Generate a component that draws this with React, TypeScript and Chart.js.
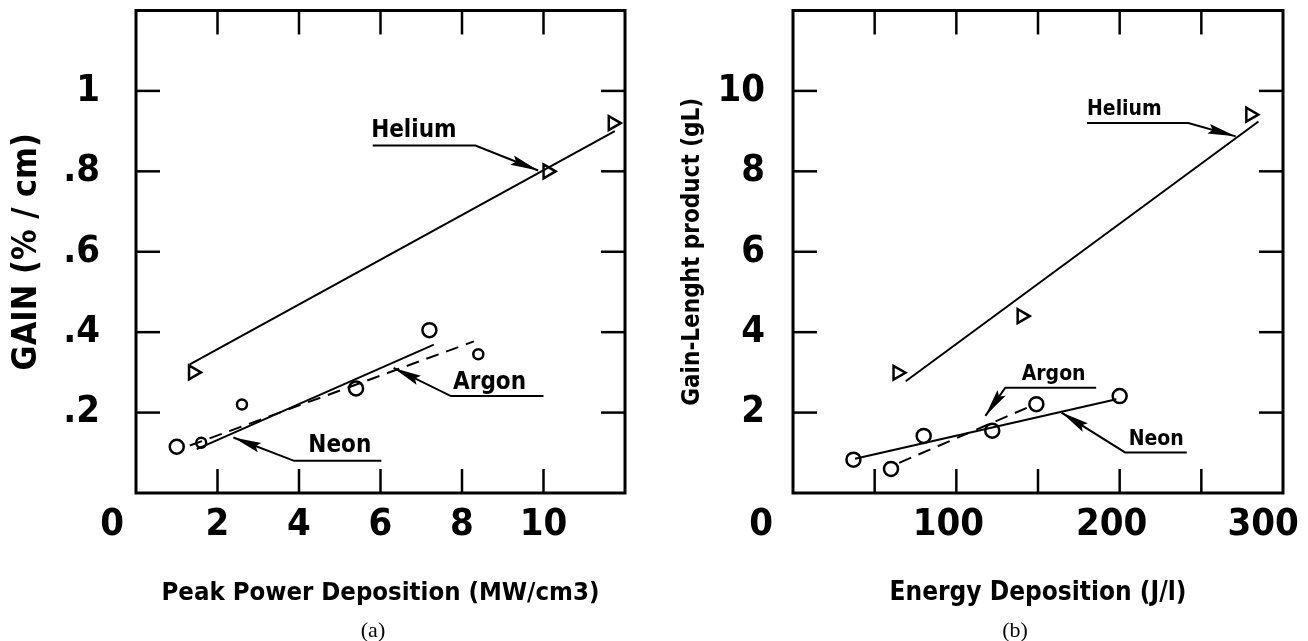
import React, { useEffect, useRef } from 'react';
import { Chart, registerables } from 'chart.js';
Chart.register(...registerables);

// ---------- Panel (a): Gain vs Peak Power Deposition ----------
const heliumPowerX = [1.4, 10.1, 11.7];
const heliumGainY = [0.3, 0.8, 0.92];
const neonPowerX = [1.0, 5.4, 7.2];
const neonGainY = [0.115, 0.26, 0.405];
const argonPowerX = [1.6, 2.6, 8.4];
const argonGainY = [0.125, 0.22, 0.345];
const heliumFitAX = [1.32, 11.75];
const heliumFitAY = [0.32, 0.9];
const neonFitAX = [1.49, 7.31];
const neonFitAY = [0.109, 0.369];
const argonFitAX = [1.32, 8.29];
const argonFitAY = [0.118, 0.377];

// ---------- Panel (b): Gain-length vs Energy Deposition ----------
const heliumEnergyX = [64, 140, 280];
const heliumGLY = [2.99, 4.4, 9.41];
const neonEnergyX = [37, 80, 122, 200];
const neonGLY = [0.83, 1.42, 1.55, 2.41];
const argonEnergyX = [60, 149];
const argonGLY = [0.6, 2.21];
const heliumFitBX = [69, 285];
const heliumFitBY = [2.78, 9.24];
const neonFitBX = [38, 198];
const neonFitBY = [0.85, 2.33];
const argonFitBX = [65, 145];
const argonFitBY = [0.75, 2.15];

// ---------- Axis ticks / labels ----------
const xTicksA = { min: 0, max: 12, step: 2 };
const yTicksA = { min: 0, max: 1.2, step: 0.2 };
const xTicksB = { min: 0, max: 300, step: 50 };
const yTicksB = { min: 0, max: 12, step: 2 };

const xTitleA = 'Peak Power Deposition (MW/cm3)';
const yTitleA = 'GAIN (% / cm)';
const xTitleB = 'Energy Deposition (J/l)';
const yTitleB = 'Gain-Lenght product (gL)';

// Annotation labels (text anchor + leader polyline in data units, last point = arrow tip)
const notesA = [
  { text: 'Helium', tx: 5.77, ty: 0.885, px: [5.81, 8.33, 9.87], py: [0.864, 0.864, 0.802] },
  { text: 'Argon', tx: 7.78, ty: 0.258, px: [10.0, 7.73, 6.32], py: [0.241, 0.241, 0.311] },
  { text: 'Neon', tx: 4.23, ty: 0.101, px: [6.02, 3.88, 2.39], py: [0.08, 0.08, 0.138] },
];
const notesB = [
  { text: 'Helium', tx: 180, ty: 9.41, px: [180, 242, 271], py: [9.2, 9.2, 8.87] },
  { text: 'Argon', tx: 140, ty: 2.82, px: [185.6, 130, 117.8], py: [2.62, 2.62, 1.92] },
  { text: 'Neon', tx: 205.5, ty: 1.19, px: [241.1, 203.3, 164.4], py: [1.01, 1.01, 2.0] },
];

const FONT = "'Liberation Sans Narrow', 'DejaVu Sans Condensed', 'Arial Narrow', sans-serif";
const TICK_SIZE = 38;

const pts = (xs: number[], ys: number[]) => xs.map((x, i) => ({ x, y: ys[i] }));

function makeFramePlugin(notes: any[], noteSize: number) {
  return {
    id: 'frame',
    afterDatasetsDraw(chart: any) {
      const { ctx, chartArea: a, scales } = chart;
      const xs = scales.x;
      const ys = scales.y;
      ctx.save();
      ctx.strokeStyle = '#000';
      ctx.fillStyle = '#000';
      ctx.lineWidth = 3;
      ctx.strokeRect(a.left, a.top, a.right - a.left, a.bottom - a.top);
      ctx.lineWidth = 2.5;
      const L = 24;
      const seg = (x1: number, y1: number, x2: number, y2: number) => {
        ctx.beginPath();
        ctx.moveTo(x1, y1);
        ctx.lineTo(x2, y2);
        ctx.stroke();
      };
      xs.ticks.forEach((t: any) => {
        if (t.value <= xs.min + 1e-9 || t.value >= xs.max - 1e-9) return;
        const p = xs.getPixelForValue(t.value);
        seg(p, a.bottom, p, a.bottom - L);
        seg(p, a.top, p, a.top + L);
      });
      ys.ticks.forEach((t: any) => {
        if (t.value <= ys.min + 1e-9 || t.value >= ys.max - 1e-9) return;
        const p = ys.getPixelForValue(t.value);
        seg(a.left, p, a.left + L, p);
        seg(a.right, p, a.right - L, p);
      });
      // annotations
      ctx.lineWidth = 2;
      ctx.font = `bold ${noteSize}px ${FONT}`;
      ctx.textAlign = 'left';
      ctx.textBaseline = 'alphabetic';
      notes.forEach((n) => {
        ctx.fillText(n.text, xs.getPixelForValue(n.tx), ys.getPixelForValue(n.ty));
        const P = n.px.map((v: number, i: number) => [xs.getPixelForValue(v), ys.getPixelForValue(n.py[i])]);
        ctx.beginPath();
        ctx.moveTo(P[0][0], P[0][1]);
        for (let i = 1; i < P.length; i++) ctx.lineTo(P[i][0], P[i][1]);
        ctx.stroke();
        const [x1, y1] = P[P.length - 2];
        const [x2, y2] = P[P.length - 1];
        const ang = Math.atan2(y2 - y1, x2 - x1);
        const len = 28;
        const hw = 5;
        const c = Math.cos(ang);
        const s = Math.sin(ang);
        ctx.beginPath();
        ctx.moveTo(x2, y2);
        ctx.lineTo(x2 - len * c + hw * s, y2 - len * s - hw * c);
        ctx.lineTo(x2 - len * 0.85 * c, y2 - len * 0.85 * s);
        ctx.lineTo(x2 - len * c - hw * s, y2 - len * s + hw * c);
        ctx.closePath();
        ctx.fill();
      });
      ctx.restore();
    },
  };
}

function lineDs(xs: number[], ys: number[], dash: number[] = []) {
  return {
    data: pts(xs, ys),
    showLine: true,
    borderColor: '#000',
    borderWidth: 2,
    borderDash: dash,
    pointRadius: 0,
    fill: false,
  };
}

function pointDs(xs: number[], ys: number[], style: string, radius: number) {
  return {
    data: pts(xs, ys),
    showLine: false,
    pointStyle: style,
    rotation: style === 'triangle' ? 90 : 0,
    pointRadius: radius,
    pointBorderWidth: 2.5,
    pointBorderColor: '#000',
    pointBackgroundColor: 'rgba(255,255,255,0)',
  };
}

function makeConfig(p: any) {
  return {
    type: 'scatter',
    data: { datasets: p.datasets },
    options: {
      animation: false,
      responsive: false,
      events: [],
      layout: { padding: { top: p.top, right: p.right, left: 0, bottom: 0 } },
      plugins: { legend: { display: false }, tooltip: { enabled: false }, title: { display: false } },
      scales: {
        x: {
          type: 'linear',
          min: p.xt.min,
          max: p.xt.max,
          afterFit: (s: any) => {
            s.height = 148;
            s.paddingLeft = 0;
            s.paddingRight = 0;
          },
          grid: { display: false, drawTicks: false },
          border: { display: false },
          ticks: {
            stepSize: p.xt.step,
            autoSkip: false,
            maxRotation: 0,
            padding: 9,
            labelOffset: p.xLabelOffset,
            color: '#000',
            font: { family: FONT, size: TICK_SIZE, weight: 'bold' },
            callback: p.xLabel,
          },
          title: {
            display: true,
            text: p.xTitle,
            color: '#000',
            font: { family: FONT, size: p.xTitleSize, weight: 'bold' },
            padding: { top: 0, bottom: 32 },
          },
        },
        y: {
          type: 'linear',
          min: p.yt.min,
          max: p.yt.max,
          afterFit: (s: any) => {
            s.width = p.yAxisWidth;
            s.paddingTop = 0;
            s.paddingBottom = 0;
          },
          grid: { display: false, drawTicks: false },
          border: { display: false },
          ticks: {
            stepSize: p.yt.step,
            autoSkip: false,
            padding: p.yPad,
            color: '#000',
            font: { family: FONT, size: TICK_SIZE, weight: 'bold' },
            callback: p.yLabel,
          },
          title: {
            display: true,
            text: p.yTitle,
            color: '#000',
            font: { family: FONT, size: p.yTitleSize, weight: 'bold' },
            padding: { top: p.yTitlePad, bottom: 0 },
          },
        },
      },
    },
    plugins: [makeFramePlugin(p.notes, p.noteSize)],
  };
}

export default function App() {
  const refA = useRef<HTMLCanvasElement>(null);
  const refB = useRef<HTMLCanvasElement>(null);

  useEffect(() => {
    const cfgA = makeConfig({
      datasets: [
        lineDs(heliumFitAX, heliumFitAY),
        lineDs(neonFitAX, neonFitAY),
        lineDs(argonFitAX, argonFitAY, [13, 8]),
        pointDs(heliumPowerX, heliumGainY, 'triangle', 8),
        pointDs(neonPowerX, neonGainY, 'circle', 7),
        pointDs(argonPowerX, argonGainY, 'circle', 5),
      ],
      top: 8,
      right: 29,
      xt: xTicksA,
      yt: yTicksA,
      xLabelOffset: 0,
      xLabel: (v: number) => {
        if (v === 0) return '0    ';
        if (v >= 12) return '';
        return String(v);
      },
      yLabel: (v: number) => {
        const r = Math.round(v * 10) / 10;
        if (r <= 0 || r >= 1.2) return '';
        if (r === 1) return '1';
        return '.' + Math.round(r * 10);
      },
      xTitle: xTitleA,
      xTitleSize: 25.5,
      yTitle: yTitleA,
      yAxisWidth: 136,
      yPad: 36,
      yTitleSize: 34,
      yTitlePad: 7,
      notes: notesA,
      noteSize: 24,
    });
    const cfgB = makeConfig({
      datasets: [
        lineDs(heliumFitBX, heliumFitBY),
        lineDs(neonFitBX, neonFitBY),
        lineDs(argonFitBX, argonFitBY, [13, 8]),
        pointDs(heliumEnergyX, heliumGLY, 'triangle', 8),
        pointDs(neonEnergyX, neonGLY, 'circle', 7),
        pointDs(argonEnergyX, argonGLY, 'circle', 7),
      ],
      top: 9,
      right: 25,
      xt: xTicksB,
      yt: yTicksB,
      xLabelOffset: -8,
      xLabel: (v: number) => {
        if (v === 0) return '0    ';
        if (v % 100 !== 0) return '';
        if (v === 300) return '300  ';
        return String(v);
      },
      yLabel: (v: number) => {
        if (v <= 0 || v >= 12) return '';
        return String(v);
      },
      xTitle: xTitleB,
      xTitleSize: 26,
      yTitle: yTitleB,
      yAxisWidth: 139,
      yPad: 28,
      yTitleSize: 24,
      yTitlePad: 24,
      notes: notesB,
      noteSize: 21,
    });
    const a = new Chart(refA.current as HTMLCanvasElement, cfgA as any);
    const b = new Chart(refB.current as HTMLCanvasElement, cfgB as any);
    return () => {
      a.destroy();
      b.destroy();
    };
  }, []);

  const caption: React.CSSProperties = {
    position: 'absolute',
    top: 630,
    transform: 'translate(-50%, -50%)',
    font: "22px 'Liberation Serif', 'DejaVu Serif', serif",
    color: '#000',
    whiteSpace: 'nowrap',
  };

  return (
    <div style={{ position: 'absolute', left: 0, top: 0, width: 1308, height: 641, background: '#fff', overflow: 'hidden' }}>
      <canvas ref={refA} width={654} height={641} style={{ position: 'absolute', left: 0, top: 0 }} />
      <canvas ref={refB} width={654} height={641} style={{ position: 'absolute', left: 654, top: 0 }} />
      <div style={{ ...caption, left: 373 }}>(a)</div>
      <div style={{ ...caption, left: 1015 }}>(b)</div>
    </div>
  );
}
